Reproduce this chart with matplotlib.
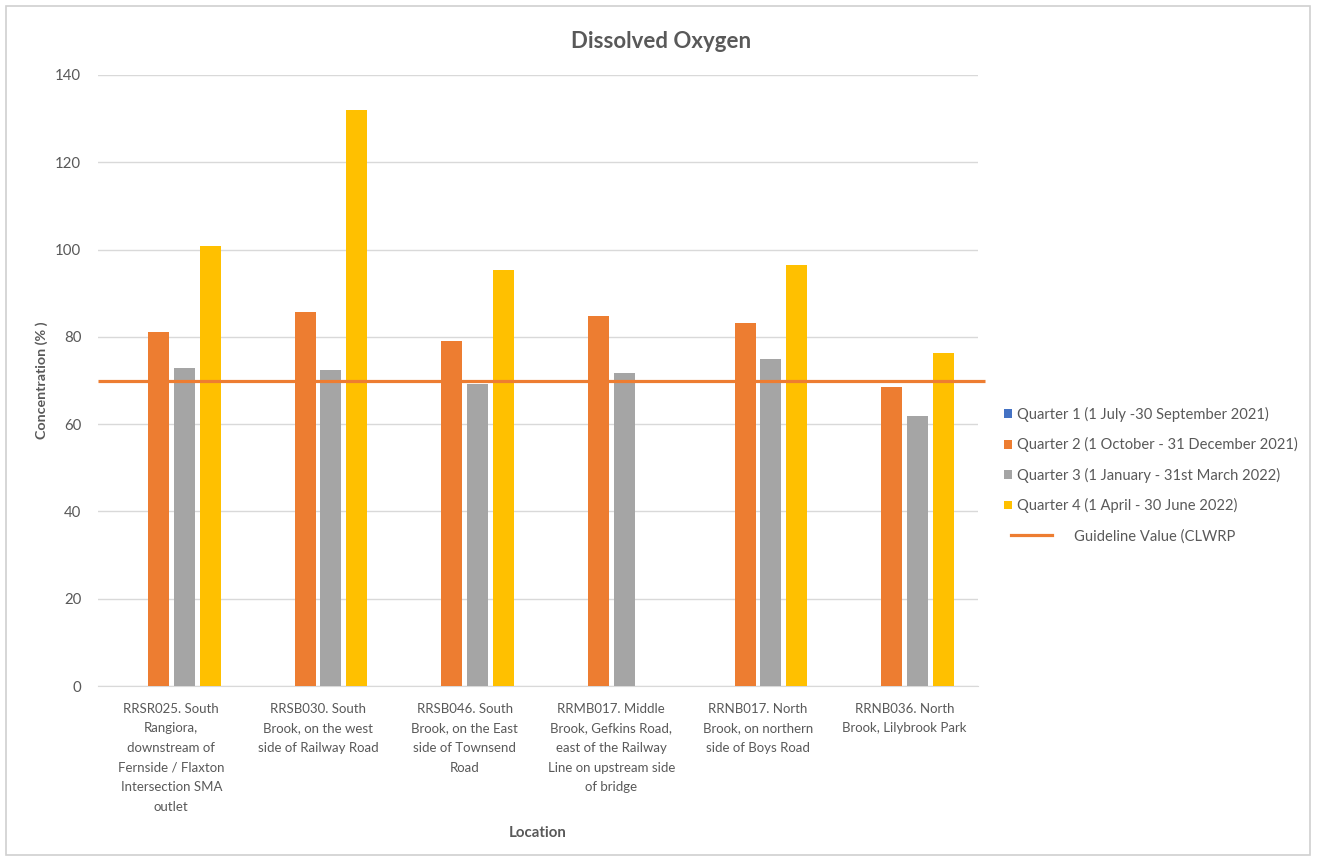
import numpy as np
import matplotlib
matplotlib.use("Agg")
import matplotlib.pyplot as plt
from matplotlib.patches import Patch, Rectangle
from matplotlib.lines import Line2D

plt.rcParams['font.family'] = ['Lato', 'DejaVu Sans']

# ---- data ----
locations = [
    "RRSR025. South\nRangiora,\ndownstream of\nFernside / Flaxton\nIntersection SMA\noutlet",
    "RRSB030. South\nBrook, on the west\nside of Railway Road",
    "RRSB046. South\nBrook, on the East\nside of Townsend\nRoad",
    "RRMB017. Middle\nBrook, Gefkins Road,\neast of the Railway\nLine on upstream side\nof bridge",
    "RRNB017. North\nBrook, on northern\nside of Boys Road",
    "RRNB036. North\nBrook, Lilybrook Park",
]
series_names = [
    "Quarter 1 (1 July -30 September 2021)",
    "Quarter 2 (1 October - 31 December 2021)",
    "Quarter 3 (1 January - 31st March 2022)",
    "Quarter 4 (1 April - 30 June 2022)",
]
q1 = [np.nan, np.nan, np.nan, np.nan, np.nan, np.nan]
q2 = [81.1, 85.7, 79.1, 84.8, 83.1, 68.5]
q3 = [72.8, 72.4, 69.2, 71.7, 74.9, 61.9]
q4 = [100.8, 132.0, 95.3, np.nan, 96.5, 76.4]
guideline_value = 70
guideline_name = "Guideline Value (CLWRP"
y_ticks = [0, 20, 40, 60, 80, 100, 120, 140]

colors = ["#4472C4", "#ED7D31", "#A5A5A5", "#FFC000"]
text_col = "#595959"
grid_col = "#D9D9D9"

W, H = 1319, 859
fig = plt.figure(figsize=(W / 100, H / 100), dpi=100)
fig.patch.set_facecolor("white")

# outer chart border
fig.add_artist(Rectangle((6 / W, 4 / H), 1304 / W, 849 / H, transform=fig.transFigure,
                         fill=False, edgecolor="#D0D0D0", linewidth=1.2))

ax = fig.add_axes([98 / W, (H - 686) / H, 880 / W, 611 / H])

x = np.arange(len(locations))
step = 0.177
width = 0.143
all_series = [q1, q2, q3, q4]
for i, (vals, col) in enumerate(zip(all_series, colors)):
    offs = (i - 1.5) * step
    ax.bar(x + offs, vals, width=width, color=col, zorder=3)

ax.set_xlim(-0.5, len(locations) - 0.5)
ax.set_ylim(0, 140)
ax.set_yticks(y_ticks)
ax.set_yticklabels([str(v) for v in y_ticks])
ax.set_xticks(x)
ax.set_xticklabels(locations, linespacing=1.77, fontsize=9.5, color=text_col,
                   va="top")

# guideline across the chart
gx = [ax.get_xlim()[0], ax.get_xlim()[1] + 0.05]
ax.plot(gx, [guideline_value, guideline_value], color=colors[1], linewidth=2.3,
        zorder=4, clip_on=False, solid_capstyle="butt")

ax.grid(axis="y", color=grid_col, linewidth=1, zorder=0)
for s in ["top", "right", "left"]:
    ax.spines[s].set_visible(False)
ax.spines["bottom"].set_color(grid_col)
ax.tick_params(axis="both", length=0, colors=text_col)
ax.tick_params(axis="y", labelsize=10.8, pad=12)
ax.tick_params(axis="x", pad=12)

fig.text(661 / W, 1 - 41 / H, "Dissolved Oxygen", fontsize=16, fontweight="bold",
         color=text_col, ha="center", va="center")
ax.set_ylabel("Concentration (% )", fontsize=10.3, fontweight="bold", color=text_col)
ax.yaxis.set_label_coords(-56 / 880, 0.5)
ax.set_xlabel("Location", fontsize=10.8, fontweight="bold", color=text_col)
ax.xaxis.set_label_coords(0.5, -(833 - 686) / 611)
ax.xaxis.label.set_va("center")
ax.yaxis.label.set_va("center")

# legend: bar series
bar_handles = [Patch(facecolor=c, edgecolor="none") for c in colors]
leg1 = ax.legend(bar_handles, series_names, loc="upper left",
                 bbox_to_anchor=(1004 / W, 1 - 407 / H), bbox_transform=fig.transFigure,
                 frameon=False, fontsize=10.6, labelcolor=text_col,
                 handlelength=0.55, handleheight=0.55, handletextpad=0.35,
                 labelspacing=1.04, borderaxespad=0, borderpad=0)
ax.add_artist(leg1)
line_handle = [Line2D([0], [0], color=colors[1], linewidth=2.3)]
ax.legend(line_handle, [guideline_name], loc="upper left",
          bbox_to_anchor=(1011 / W, 1 - 529 / H), bbox_transform=fig.transFigure,
          frameon=False, fontsize=10.6, labelcolor=text_col,
          handlelength=2.8, handletextpad=1.5, borderaxespad=0, borderpad=0)

fig.savefig("out.png", dpi=100, facecolor="white")
